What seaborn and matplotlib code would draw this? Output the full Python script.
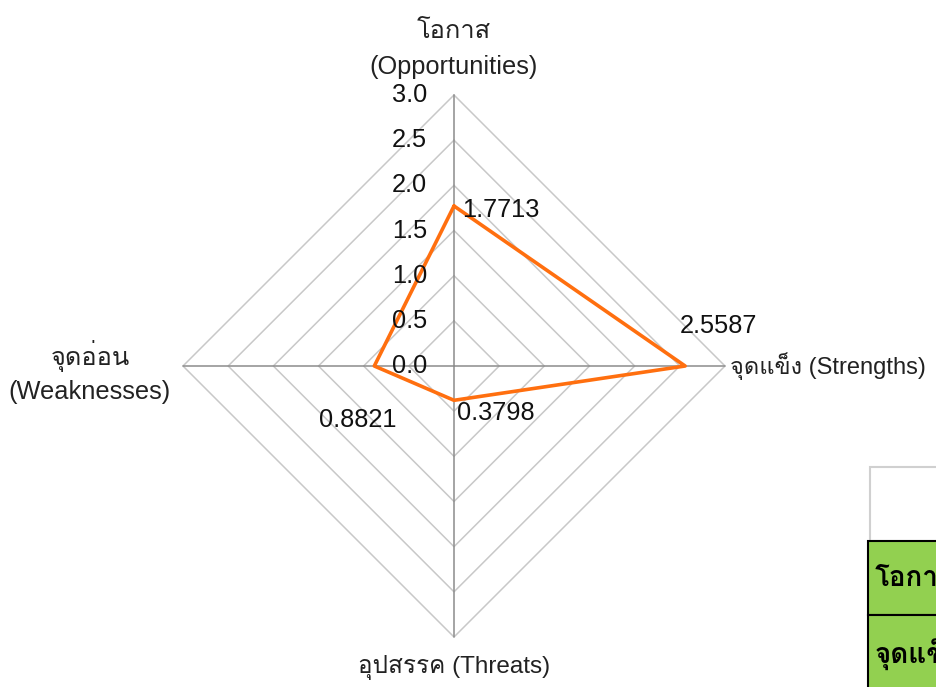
import matplotlib
matplotlib.use("Agg")
import matplotlib.pyplot as plt
from matplotlib import font_manager, ft2font
import seaborn as sns
import pandas as pd
import numpy as np

# datos del radar
categorias = ["โอกาส\n(Opportunities)", "จุดแข็ง (Strengths)",
              "อุปสรรค (Threats)", "จุดอ่อน\n(Weaknesses)"]
valores = [1.7713, 2.5587, 0.3798, 0.8821]
anillos = [0.5, 1.0, 1.5, 2.0, 2.5, 3.0]
ticks_r = ["0.0", "0.5", "1.0", "1.5", "2.0", "2.5", "3.0"]
tabla_filas = ["โอกาส", "จุดแข็ง"]

sns.set_theme(style="white")

# buscar una fuente con glifos tailandeses
thai = None
for f in font_manager.fontManager.ttflist:
    try:
        if 0x0E01 in ft2font.FT2Font(f.fname).get_charmap():
            thai = f.name
            break
    except Exception:
        pass
familia = ["Liberation Sans", thai] if thai else ["Liberation Sans"]
plt.rcParams["font.family"] = familia

fig = plt.figure(figsize=(9.36, 6.87), dpi=100)
ax = fig.add_axes([0, 0, 1, 1])
esc = 271 / 3.0  # px por unidad
cx, cy = 454, 366
ax.set_xlim(-cx / esc, (936 - cx) / esc)
ax.set_ylim(-(687 - cy) / esc, cy / esc)
ax.set_axis_off()

# ángulos: arriba, derecha, abajo, izquierda
ang = np.pi / 2 - np.arange(4) * np.pi / 2
ux, uy = np.round(np.cos(ang), 6), np.round(np.sin(ang), 6)

for r in anillos:
    ax.plot(np.append(ux, ux[0]) * r, np.append(uy, uy[0]) * r,
            color="#C8C8C8", lw=1.1, zorder=1)
for i in range(4):
    ax.plot([0, ux[i] * 3.0], [0, uy[i] * 3.0], color="#8C8C8C", lw=1.1, zorder=1)

df = pd.DataFrame({"x": np.append(ux * valores, ux[0] * valores[0]),
                   "y": np.append(uy * valores, uy[0] * valores[0])})
sns.lineplot(data=df, x="x", y="y", sort=False, estimator=None, color="#FF6F0F",
             lw=2.6, ax=ax, zorder=3)

fs = 18.3
px = 1 / esc
for k, t in enumerate(ticks_r):
    ax.text(-27 * px, k * 0.5, t, ha="right", va="center", fontsize=fs,
            color="#111111", zorder=4)

# etiquetas de valores (desplazadas en px)
desp = [(8, -4, "left"), (-5, 40, "left"), (3, -13, "left"), (22, -54, "right")]
for i, v in enumerate(valores):
    dx, dy, ha = desp[i]
    ax.text(ux[i] * v + dx * px, uy[i] * v + dy * px, f"{v:.4f}", ha=ha,
            va="center", fontsize=fs, color="#111111", zorder=4)

# categorías
ax.text(0, (366 - 49) * px, categorias[0], ha="center", va="center",
        fontsize=fs, color="#222222", linespacing=1.6)
ax.text((730 - cx) * px, 0, categorias[1], ha="left", va="center",
        fontsize=17, color="#222222")
ax.text(0, -(668 - cy) * px, categorias[2], ha="center", va="center",
        fontsize=17.5, color="#222222")
ax.text((90 - cx) * px, -(372 - cy) * px, categorias[3], ha="center", va="center",
        fontsize=fs, color="#222222", linespacing=1.45)

# tabla recortada a la derecha
def rect(x0, y0, x1, y1, fc, ec, lw):
    fig.patches.append(plt.Rectangle((x0 / 936, 1 - y1 / 687), (x1 - x0) / 936,
                                     (y1 - y0) / 687, transform=fig.transFigure,
                                     fc=fc, ec=ec, lw=lw, zorder=5))

rect(870, 467, 960, 541, "white", "#D0D0D0", 1.5)
rect(868, 541, 960, 615, "#92D050", "black", 1.5)
rect(868, 615, 960, 700, "#92D050", "black", 1.5)
for j, t in enumerate(tabla_filas):
    fig.text(875 / 936, 1 - (578 + j * 75) / 687, t, ha="left", va="center",
             fontsize=20, fontweight="bold", color="black", family=[thai or "DejaVu Sans"],
             zorder=6)

fig.savefig("out.png", dpi=100)
